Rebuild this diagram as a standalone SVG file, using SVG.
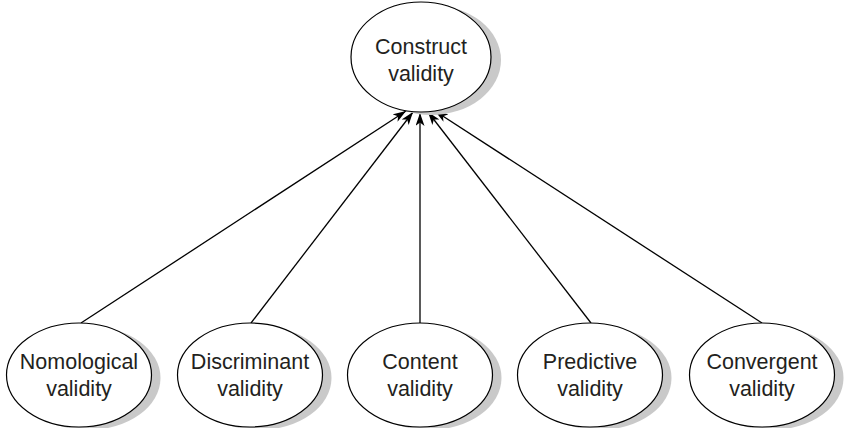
<svg xmlns="http://www.w3.org/2000/svg" width="844" height="428" viewBox="0 0 844 428">
  <defs>
    <marker id="arrow" viewBox="0 0 13 9" markerWidth="13" markerHeight="9" refX="13" refY="4.5" orient="auto" markerUnits="userSpaceOnUse">
      <path d="M0,0 L13,4.5 L0,9 L3.5,4.5 z" fill="#000"/>
    </marker>
  </defs>
  <style>
    .shadow { fill: #c9c9c9; stroke: none; }
    .node { fill: #fff; stroke: #000; stroke-width: 1.2; }
    .label { font-family: "Liberation Sans", Arial, sans-serif; font-size: 21.5px; fill: #231f20; text-anchor: middle; }
    .edge { stroke: #000; stroke-width: 1.3; fill: none; marker-end: url(#arrow); }
  </style>
  <rect width="844" height="428" fill="#fff"/>

  <!-- connectors -->
  <g id="edges">
    <line class="edge" x1="81" y1="323" x2="406" y2="111"/>
    <line class="edge" x1="251" y1="323" x2="413" y2="112"/>
    <line class="edge" x1="420" y1="323" x2="420" y2="113"/>
    <line class="edge" x1="591" y1="323" x2="428" y2="112"/>
    <line class="edge" x1="762" y1="323" x2="435" y2="111"/>
  </g>

  <g id="construct">
    <ellipse class="shadow" cx="431" cy="60" rx="70" ry="55"/>
    <ellipse class="node" cx="421" cy="57" rx="70" ry="55"/>
    <text class="label" x="421" y="54">Construct</text>
    <text class="label" x="421" y="81">validity</text>
  </g>

  <g id="nomological">
    <ellipse class="shadow" cx="88" cy="378" rx="72.5" ry="52"/>
    <ellipse class="node" cx="79" cy="375" rx="72.5" ry="52"/>
    <text class="label" x="79" y="368.5">Nomological</text>
    <text class="label" x="79" y="395.5">validity</text>
  </g>

  <g id="discriminant">
    <ellipse class="shadow" cx="259" cy="378" rx="72.5" ry="52"/>
    <ellipse class="node" cx="250" cy="375" rx="72.5" ry="52"/>
    <text class="label" x="250" y="368.5">Discriminant</text>
    <text class="label" x="250" y="395.5">validity</text>
  </g>

  <g id="content">
    <ellipse class="shadow" cx="429" cy="378" rx="72.5" ry="52"/>
    <ellipse class="node" cx="420" cy="375" rx="72.5" ry="52"/>
    <text class="label" x="420" y="368.5">Content</text>
    <text class="label" x="420" y="395.5">validity</text>
  </g>

  <g id="predictive">
    <ellipse class="shadow" cx="599" cy="378" rx="72.5" ry="52"/>
    <ellipse class="node" cx="590" cy="375" rx="72.5" ry="52"/>
    <text class="label" x="590" y="368.5">Predictive</text>
    <text class="label" x="590" y="395.5">validity</text>
  </g>

  <g id="convergent">
    <ellipse class="shadow" cx="771" cy="378" rx="72.5" ry="52"/>
    <ellipse class="node" cx="762" cy="375" rx="72.5" ry="52"/>
    <text class="label" x="762" y="368.5">Convergent</text>
    <text class="label" x="762" y="395.5">validity</text>
  </g>
</svg>
